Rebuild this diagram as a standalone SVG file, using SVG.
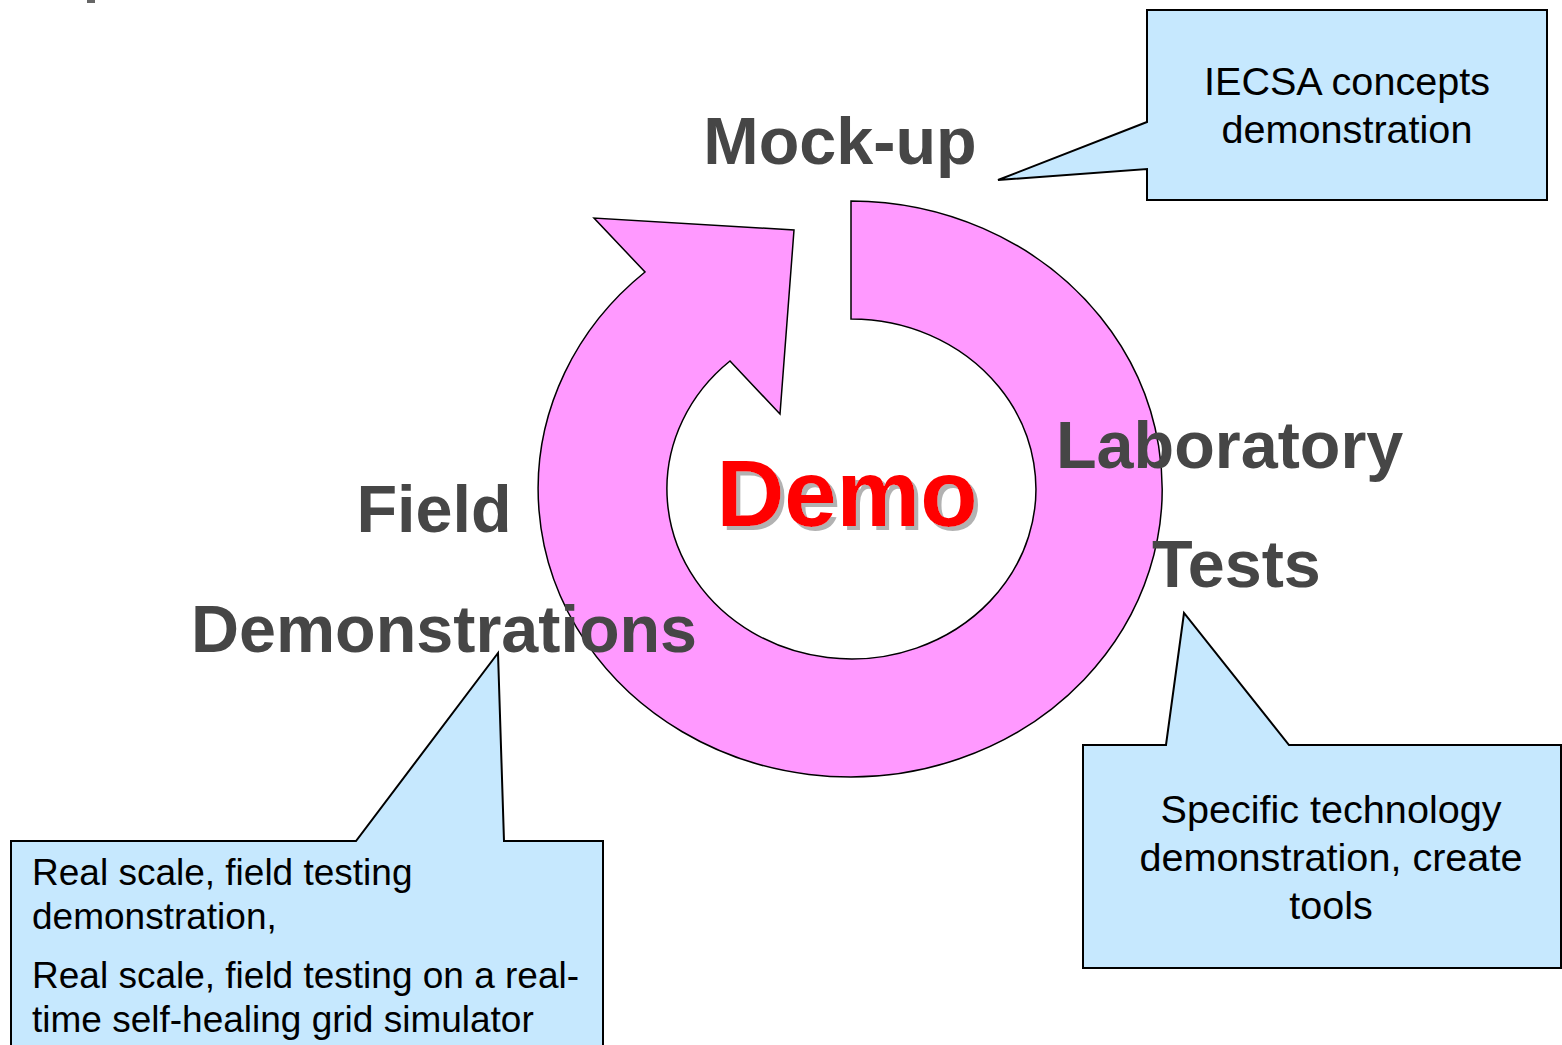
<svg xmlns="http://www.w3.org/2000/svg" width="1562" height="1045" viewBox="0 0 1562 1045">
<defs>
<filter id="shadow" x="-10%" y="-10%" width="130%" height="130%">
<feOffset in="SourceAlpha" dx="4" dy="4" result="off"/>
<feFlood flood-color="#B2B2B2"/>
<feComposite in2="off" operator="in" result="sh"/>
<feMerge><feMergeNode in="sh"/><feMergeNode in="SourceGraphic"/></feMerge>
</filter>
</defs>
<style>
.label{font-family:"Liberation Sans",Arial,sans-serif;font-weight:bold;font-size:66.5px;fill:#464646}
.call{fill:#C6E8FE;stroke:#000;stroke-width:2}
.ct{font-family:"Liberation Sans",Arial,sans-serif;font-size:39.6px;fill:#000}
.ctl{font-family:"Liberation Sans",Arial,sans-serif;font-size:37px;fill:#000}
.demo{font-family:"Liberation Sans",Arial,sans-serif;font-weight:bold;font-size:94px;fill:#FF0000}
</style>
<rect width="1562" height="1045" fill="#fff"/>
<rect x="87" y="0" width="8" height="3" fill="#666"/>
<g id="cycle">
<path d="M851 201 A312 288 0 1 1 645 272 L594 218 L794 230 L780 414 L730 361 A184.5 170 0 1 0 851 319 Z" fill="#FF99FF" stroke="#000" stroke-width="1.5" stroke-linejoin="miter"/>
</g>
<g id="callout-mockup">
<path class="call" d="M1147 10 H1547 V200 H1147 V169 L998 180 L1147 122 Z"/>
<text class="ct" x="1347" y="95" text-anchor="middle">IECSA concepts</text>
<text class="ct" x="1347" y="143" text-anchor="middle">demonstration</text>
</g>
<g id="callout-lab">
<path class="call" d="M1083 745 H1166 L1184 613 L1289 745 H1561 V968 H1083 Z"/>
<text class="ct" x="1331" y="823" text-anchor="middle">Specific technology</text>
<text class="ct" x="1331" y="871" text-anchor="middle">demonstration, create</text>
<text class="ct" x="1331" y="919" text-anchor="middle">tools</text>
</g>
<g id="callout-field">
<path class="call" d="M11 841 H356 L498 653 L504 841 H603 V1047 H11 Z"/>
<text class="ctl" x="32" y="885">Real scale, field testing</text>
<text class="ctl" x="32" y="929">demonstration,</text>
<text class="ctl" x="32" y="988">Real scale, field testing on a real-</text>
<text class="ctl" x="32" y="1032">time self-healing grid simulator</text>
</g>
<g id="mockup"><text class="label" x="840" y="164" text-anchor="middle">Mock-up</text></g>
<g id="laboratory">
<text class="label" x="1056" y="468">Laboratory</text>
<text class="label" x="1152" y="587">Tests</text>
</g>
<g id="field">
<text class="label" x="434" y="532" text-anchor="middle">Field</text>
<text class="label" x="444" y="652" text-anchor="middle">Demonstrations</text>
</g>
<g id="demo">
<text class="demo" x="847" y="526" text-anchor="middle" filter="url(#shadow)">Demo</text>
</g>
</svg>
